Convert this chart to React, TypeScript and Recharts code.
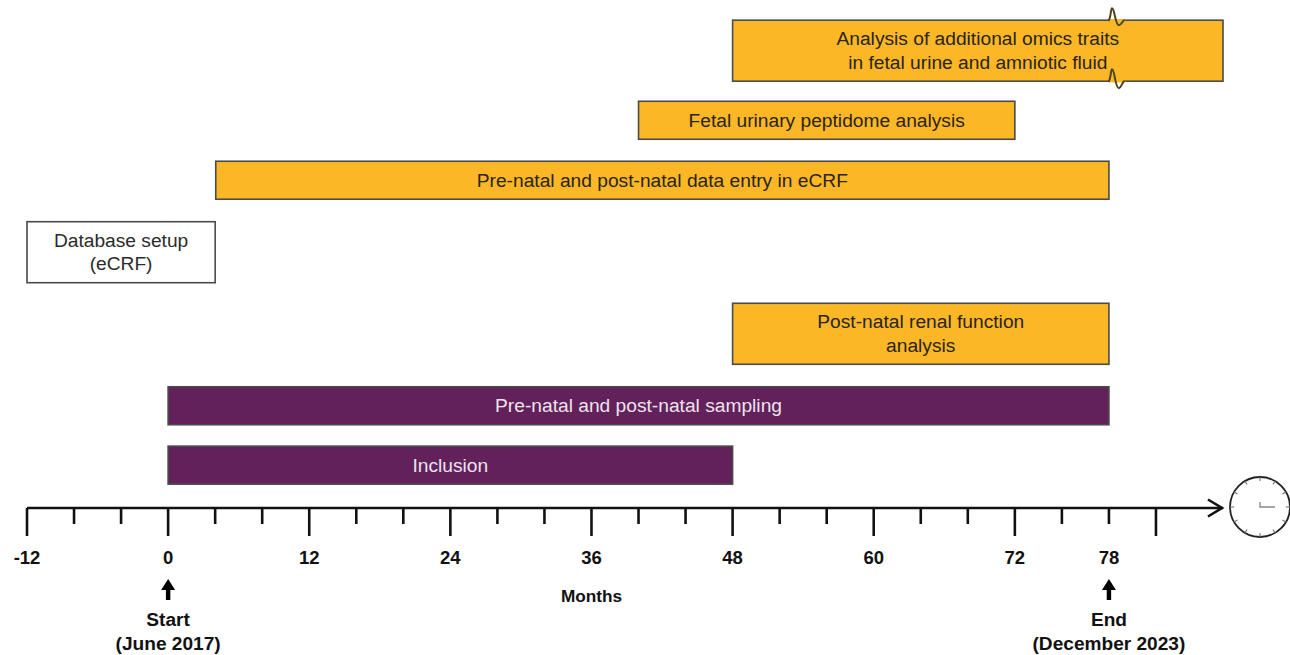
import React from "react";
import { ComposedChart, Bar, XAxis, YAxis, ReferenceDot } from "recharts";

// Tasks, top to bottom. Axis positions are in months on the drawn (linear) axis;
// the axis is compressed so that the tick labelled 78 sits at position 80.
const taskLabels: string[][] = [
  ["Analysis of additional omics traits", "in fetal urine and amniotic fluid"],
  ["Fetal urinary peptidome analysis"],
  ["Pre-natal and post-natal data entry in eCRF"],
  ["Database setup", "(eCRF)"],
  ["Post-natal renal function", "analysis"],
  ["Pre-natal and post-natal sampling"],
  ["Inclusion"],
];
const taskStart = [48, 40, 4.05, -12, 48, 0, 0];
const taskEnd = [89.7, 72, 80, 4, 80, 80, 48];
const taskLane = [7.63, 6.47, 5.47, 4.27, 2.91, 1.71, 0.72];
const taskKind = ["analysis", "analysis", "analysis", "setup", "analysis", "clinical", "clinical"];

const minorTicks = [-8, -4, 4, 8, 16, 20, 28, 32, 40, 44, 52, 56, 64, 68, 76, 80];
const majorTicks = [-12, 0, 12, 24, 36, 48, 60, 72, 84];
const tickLabels: Record<number, string> = {
  [-12]: "-12", 0: "0", 12: "12", 24: "24", 36: "36", 48: "48", 60: "60", 72: "72", 80: "78",
};
const milestones: Record<number, string[]> = {
  0: ["Start", "(June 2017)"],
  80: ["End", "(December 2023)"],
};
const axisTitle = "Months";
const axisTitleTick = 36;
const axisEnd = 89.7;

const rows = taskLabels.map((lines, i) => ({
  lines,
  span: [taskStart[i], taskEnd[i]],
  lane: taskLane[i],
  kind: taskKind[i],
  broken: i === 0,
}));

const FONT = "'Liberation Sans', Arial, sans-serif";
const kindStyle: Record<string, { fill: string; text: string }> = {
  analysis: { fill: "#FBB726", text: "#2a2418" },
  setup: { fill: "#FFFFFF", text: "#2b2b2b" },
  clinical: { fill: "#62215B", text: "#EDE3EC" },
};

function TaskShape(props: any) {
  const { x, y, width, height, payload } = props;
  const style = kindStyle[payload.kind];
  const cy = y + height / 2;
  const two = payload.lines.length > 1;
  const h = two ? 61 : 38;
  const top = cy - h / 2;
  const bottom = cy + h / 2;
  const cx = x + width / 2;
  const bx = x + (80 - taskStart[0]) * (width / (taskEnd[0] - taskStart[0]));
  return (
    <g>
      <rect x={x} y={top} width={width} height={h} fill={style.fill} stroke="#4a4a48" strokeWidth={1.6} />
      {payload.broken && (
        <g fill="none" strokeLinecap="round">
          <path d={`M${bx + 1} ${top} H${bx + 15}`} stroke={style.fill} strokeWidth={2.4} />
          <path d={`M${bx + 1} ${bottom} H${bx + 15}`} stroke={style.fill} strokeWidth={2.4} />
          <path
            d={`M${bx} ${top} C${bx + 2} ${top - 4} ${bx + 2} ${top - 12} ${bx + 3} ${top - 12} C${bx + 6} ${top - 12} ${bx + 6} ${top + 5} ${bx + 10} ${top + 5} C${bx + 12} ${top + 5} ${bx + 13} ${top + 2} ${bx + 15} ${top}`}
            stroke="#4a4420"
            strokeWidth={2}
          />
          <path
            d={`M${bx} ${bottom} C${bx + 2} ${bottom - 4} ${bx + 2} ${bottom - 12} ${bx + 3} ${bottom - 12} C${bx + 6} ${bottom - 12} ${bx + 6} ${bottom + 7} ${bx + 10} ${bottom + 7} C${bx + 12} ${bottom + 7} ${bx + 13} ${bottom + 2} ${bx + 15} ${bottom}`}
            stroke="#4a4420"
            strokeWidth={2}
          />
        </g>
      )}
      {payload.lines.map((line: string, i: number) => (
        <text
          key={line}
          x={cx}
          y={two ? cy - 12 + i * 23.5 : cy}
          textAnchor="middle"
          dominantBaseline="central"
          fontFamily={FONT}
          fontSize={19.2}
          fill={style.text}
        >
          {line}
        </text>
      ))}
    </g>
  );
}

function UpArrow({ x, y }: { x: number; y: number }) {
  return (
    <path
      d={`M${x} ${y} L${x + 7} ${y + 11} H${x + 2.2} V${y + 21} H${x - 2.2} V${y + 11} H${x - 7} Z`}
      fill="#000"
    />
  );
}

function AxisTick(props: any) {
  const { x, y, payload } = props;
  const v = payload.value as number;
  const major = majorTicks.includes(v);
  const label = tickLabels[v];
  const notes = milestones[v];
  const common = { fontFamily: FONT, fontWeight: 700, fill: "#111", textAnchor: "middle" as const };
  return (
    <g>
      <line x1={x} x2={x} y1={y} y2={y + (major ? 28 : 16)} stroke="#111" strokeWidth={2.6} />
      {label !== undefined && (
        <text x={x} y={y + 49} dominantBaseline="central" fontSize={18.5} {...common}>
          {label}
        </text>
      )}
      {notes && <UpArrow x={x} y={y + 71} />}
      {notes &&
        notes.map((n, i) => (
          <text key={n} x={x} y={y + 111 + i * 24} dominantBaseline="central" fontSize={19.1} {...common}>
            {n}
          </text>
        ))}
      {v === axisTitleTick && (
        <text x={x} y={y + 88} dominantBaseline="central" fontSize={17.2} {...common}>
          {axisTitle}
        </text>
      )}
    </g>
  );
}

function AxisEnd(props: any) {
  const { cx, cy } = props;
  const clockX = cx + 37;
  const r = 30;
  const hours = Array.from({ length: 12 }, (_, i) => (i * Math.PI) / 6);
  return (
    <g>
      <path d={`M${cx - 15} ${cy - 8.5} L${cx - 1} ${cy} L${cx - 15} ${cy + 8.5}`} fill="none" stroke="#111" strokeWidth={2.6} />
      <circle cx={clockX} cy={cy - 1} r={r} fill="#fff" stroke="#222" strokeWidth={1.8} />
      {hours.map((a) => (
        <line
          key={a}
          x1={clockX + Math.cos(a) * (r - 4)}
          y1={cy - 1 + Math.sin(a) * (r - 4)}
          x2={clockX + Math.cos(a) * r}
          y2={cy - 1 + Math.sin(a) * r}
          stroke="#777"
          strokeWidth={1.2}
        />
      ))}
      <path d={`M${clockX} ${cy - 6} V${cy - 1} H${clockX + 15}`} fill="none" stroke="#888" strokeWidth={1.3} />
    </g>
  );
}

export default function App() {
  return (
    <div style={{ position: "absolute", left: 0, top: 0 }}>
      <ComposedChart
        width={1290}
        height={655}
        data={rows}
        layout="vertical"
        margin={{ top: 0, right: 67, bottom: 0, left: 27 }}
      >
        <XAxis
          type="number"
          dataKey={undefined}
          domain={[-12, axisEnd]}
          ticks={[...majorTicks, ...minorTicks].sort((a, b) => a - b)}
          interval={0}
          height={147}
          tickSize={0}
          tickMargin={0}
          tickLine={false}
          axisLine={{ stroke: "#111", strokeWidth: 2.6 }}
          tick={AxisTick}
        />
        <YAxis type="number" dataKey="lane" domain={[0, 8.47]} reversed hide width={0} />
        <Bar dataKey="span" barSize={38} isAnimationActive={false} shape={TaskShape} />
        <ReferenceDot x={axisEnd} y={0} ifOverflow="visible" shape={AxisEnd} />
      </ComposedChart>
    </div>
  );
}
